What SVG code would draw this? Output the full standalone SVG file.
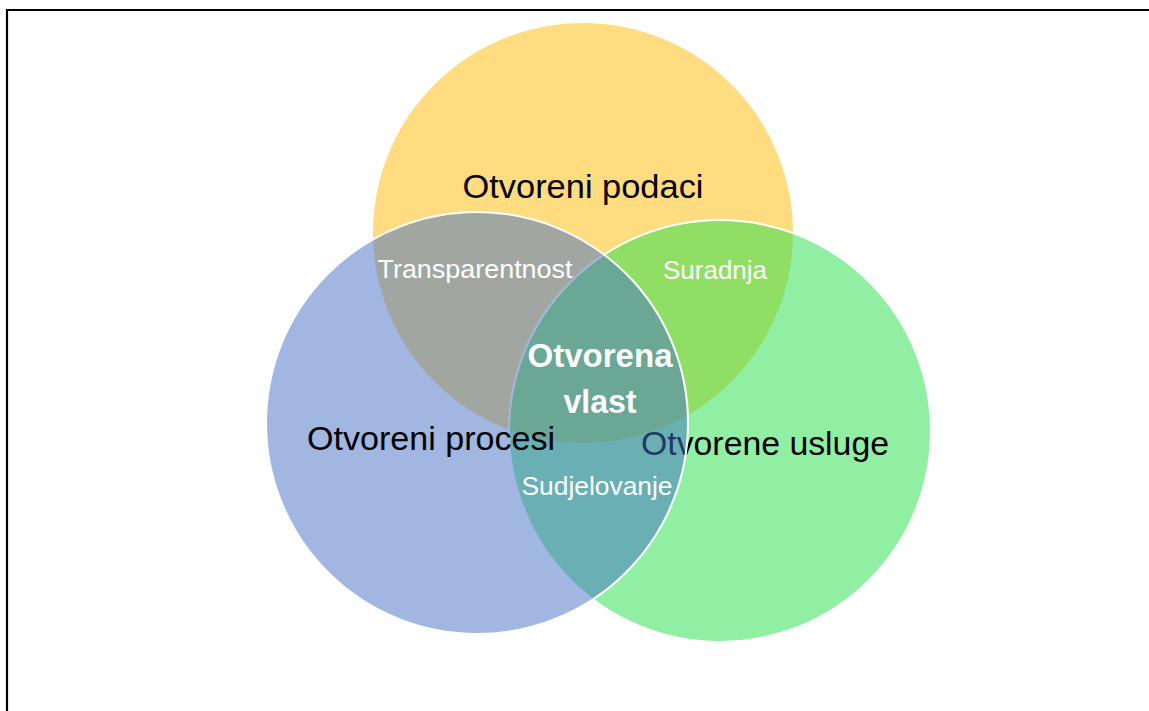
<svg xmlns="http://www.w3.org/2000/svg" width="1149" height="711" viewBox="0 0 1149 711">
  <style>
    .circ { stroke: #FFFFFF; stroke-width: 2; fill-opacity: 0.5; }
    .main { font-family: "Liberation Sans", Arial, sans-serif; font-size: 33px; fill: #000000; text-anchor: middle; }
    .sub { font-family: "Liberation Sans", Arial, sans-serif; font-size: 25px; fill: #FFFFFF; text-anchor: middle; }
    .center { font-family: "Liberation Sans", Arial, sans-serif; font-size: 33px; font-weight: bold; fill: #FFFFFF; text-anchor: middle; }
  </style>
  <rect x="0" y="0" width="1149" height="711" fill="#FFFFFF"/>
  <path d="M7,711 V10 H1149" fill="none" stroke="#000000" stroke-width="2.2"/>

  <g id="node-podaci">
    <circle class="circ" cx="583" cy="233" r="211" fill="#FFBA00"/>
    <text class="main" x="583" y="198" textLength="241" lengthAdjust="spacingAndGlyphs">Otvoreni podaci</text>
  </g>
  <g id="node-usluge">
    <circle class="circ" cx="720" cy="431" r="211" fill="#23DF49"/>
    <text class="main" x="765" y="455" textLength="248" lengthAdjust="spacingAndGlyphs">Otvorene usluge</text>
  </g>
  <g id="node-procesi">
    <circle class="circ" cx="477" cy="423" r="211" fill="#436FC3"/>
    <text class="main" x="431" y="450" textLength="248" lengthAdjust="spacingAndGlyphs">Otvoreni procesi</text>
  </g>

  <g id="node-transparentnost">
    <text class="sub" x="475" y="278" textLength="195" lengthAdjust="spacingAndGlyphs">Transparentnost</text>
  </g>
  <g id="node-suradnja">
    <text class="sub" x="715" y="279" textLength="104" lengthAdjust="spacingAndGlyphs">Suradnja</text>
  </g>
  <g id="node-sudjelovanje">
    <text class="sub" x="597" y="495" textLength="151" lengthAdjust="spacingAndGlyphs">Sudjelovanje</text>
  </g>
  <g id="node-vlast">
    <text class="center" x="600" y="367" textLength="145" lengthAdjust="spacingAndGlyphs">Otvorena</text>
    <text class="center" x="600" y="413" textLength="73" lengthAdjust="spacingAndGlyphs">vlast</text>
  </g>
</svg>
